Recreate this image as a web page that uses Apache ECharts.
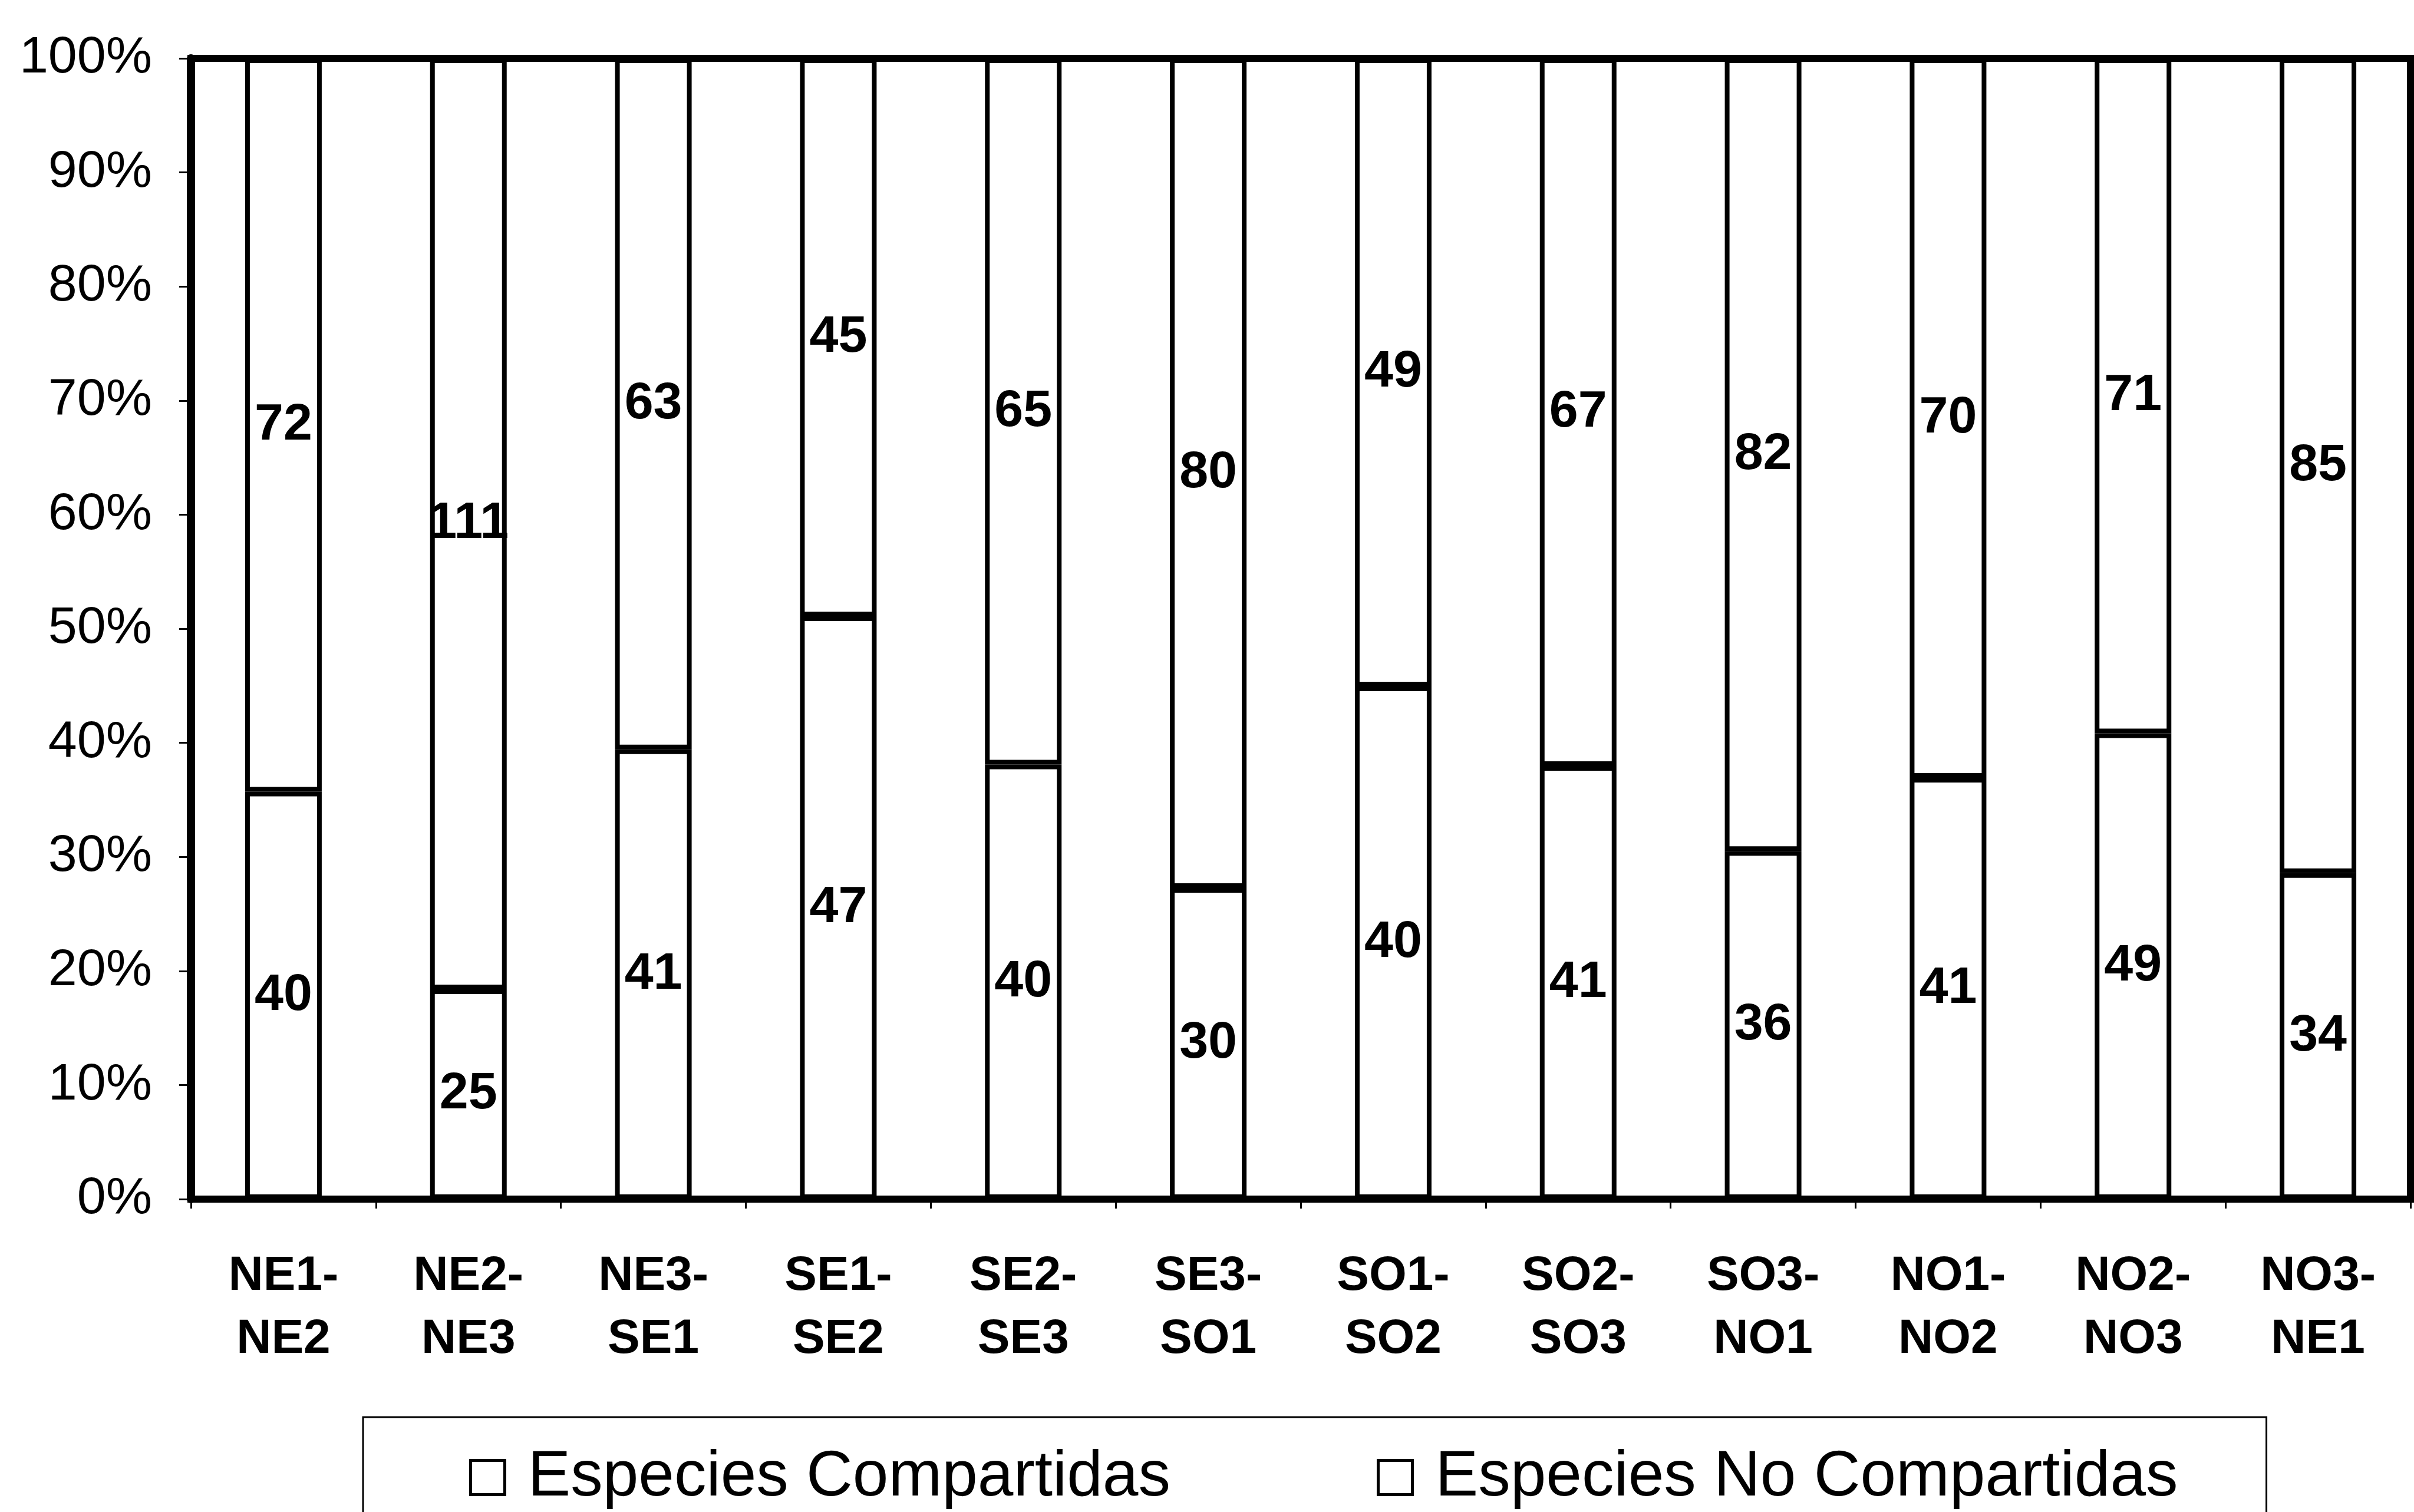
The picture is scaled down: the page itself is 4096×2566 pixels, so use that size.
<!DOCTYPE html>
<html>
<head>
<meta charset="utf-8">
<script src="https://cdn.jsdelivr.net/npm/echarts@6/dist/echarts.min.js"></script>
<style>
html,body{margin:0;padding:0;background:#fff;}
#chart{width:4096px;height:2566px;}
</style>
</head>
<body>
<div id="chart"></div>
<script>
const categories = ['NE1-\nNE2','NE2-\nNE3','NE3-\nSE1','SE1-\nSE2','SE2-\nSE3','SE3-\nSO1','SO1-\nSO2','SO2-\nSO3','SO3-\nNO1','NO1-\nNO2','NO2-\nNO3','NO3-\nNE1'];
const sharedSpecies = [40,25,41,47,40,30,40,41,36,41,49,34];
const nonSharedSpecies = [72,111,63,45,65,80,49,67,82,70,71,85];
const seriesNames = ['Especies Compartidas','Especies No Compartidas'];

const totals = sharedSpecies.map((v,i)=>v+nonSharedSpecies[i]);
const sharedPct = sharedSpecies.map((v,i)=>({value: v/totals[i]*100, raw: v}));
const nonSharedPct = nonSharedSpecies.map((v,i)=>({value: v/totals[i]*100, raw: v}));

const FONT = '"Liberation Sans", Arial, sans-serif';
const chart = echarts.init(document.getElementById('chart'));

const labelCfg = {
  show: true,
  position: 'inside',
  color: '#000',
  fontFamily: FONT,
  fontWeight: 'bold',
  fontSize: 88,
  formatter: p => p.data.raw
};
const itemCfg = {color: '#fff', borderColor: '#000', borderWidth: 8};

chart.setOption({
  animation: false,
  backgroundColor: '#fff',
  grid: {
    left: 324, right: 6, top: 99, bottom: 531,
    show: true, borderColor: '#000', borderWidth: 12, backgroundColor: 'transparent'
  },
  legend: {
    left: 616, top: 2405,
    width: 3228,
    padding: [48, 150, 60, 180],
    borderColor: '#000', borderWidth: 3,
    itemWidth: 58, itemHeight: 58, itemGap: 350,
    icon: 'rect',
    itemStyle: {color: '#fff', borderColor: '#000', borderWidth: 5},
    textStyle: {fontFamily: FONT, fontSize: 109, color: '#000', padding: [0,0,0,34]},
    data: seriesNames
  },
  xAxis: {
    type: 'category',
    data: categories,
    axisLine: {lineStyle: {color: '#000', width: 12}},
    axisTick: {show: true, length: 16, lineStyle: {color: '#000', width: 3}},
    axisLabel: {
      margin: 78, color: '#000', fontFamily: FONT, fontWeight: 'bold',
      fontSize: 82, lineHeight: 107, interval: 0
    }
  },
  yAxis: {
    type: 'value', min: 0, max: 100, interval: 10,
    axisLine: {show: true, lineStyle: {color: '#000', width: 14}},
    axisTick: {show: true, length: 20, lineStyle: {color: '#000', width: 3}},
    splitLine: {show: false},
    axisLabel: {
      formatter: '{value}%', margin: 66, color: '#000', fontFamily: FONT, fontSize: 88
    }
  },
  series: [
    {name: seriesNames[0], type: 'bar', stack: 'total', barWidth: 130,
     data: sharedPct, itemStyle: itemCfg, label: labelCfg},
    {name: seriesNames[1], type: 'bar', stack: 'total', barWidth: 130,
     data: nonSharedPct, itemStyle: itemCfg, label: labelCfg}
  ]
});
</script>
</body>
</html>
